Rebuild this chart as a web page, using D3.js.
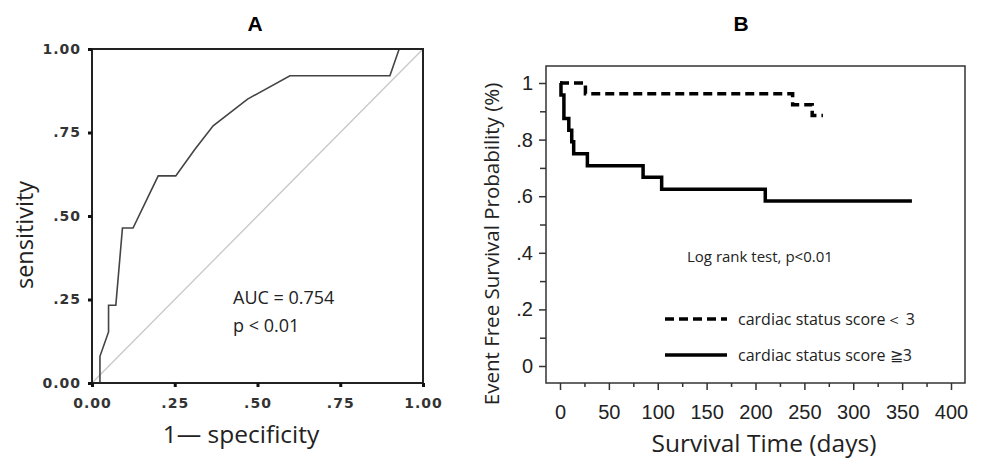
<!DOCTYPE html>
<html>
<head>
<meta charset="utf-8">
<script src="https://cdn.jsdelivr.net/npm/d3@7"></script>
<style>
  body { margin: 0; background: #fff; }
  svg { display: block; }
</style>
</head>
<body>
<div id="container"></div>
<script>
const width = 983, height = 460;

// panel A: ROC curve
const rocFpr = [0.024, 0.024, 0.05, 0.05, 0.072, 0.092, 0.124, 0.2, 0.253, 0.311, 0.366, 0.47, 0.598, 0.90, 0.928, 1.0];
const rocTpr = [0, 0.08, 0.153, 0.233, 0.233, 0.464, 0.464, 0.62, 0.62, 0.70, 0.77, 0.85, 0.92, 0.92, 1.0, 1.0];
const rocTicks = [0, 0.25, 0.5, 0.75, 1];
const rocTickLabels = ["0.00", ".25", ".50", ".75", "1.00"];

// panel B: Kaplan-Meier curves
const lowDays = [0, 26, 238, 258, 269];
const lowSurv = [1, 0.962, 0.923, 0.885, 0.885];
const highDays = [0, 1, 4, 9, 12, 14, 28, 85, 104, 210, 360];
const highSurv = [1, 0.958, 0.875, 0.833, 0.792, 0.75, 0.708, 0.667, 0.625, 0.583, 0.583];
const kmYTicks = [0, 0.2, 0.4, 0.6, 0.8, 1];
const kmYLabels = ["0", ".2", ".4", ".6", ".8", "1"];
const kmXTicks = [0, 50, 100, 150, 200, 250, 300, 350, 400];
const legendLabels = ["cardiac status score\uFF1C 3", "cardiac status score \u22673"];

const textFont = "Open Sans, sans-serif";

const svg = d3.select("#container")
  .append("svg")
  .attr("width", width)
  .attr("height", height)
  .style("background-color", "white");

// ---------- Panel A ----------
const xA = d3.scaleLinear().domain([0, 1]).range([92, 423]);
const yA = d3.scaleLinear().domain([0, 1]).range([383, 49]);

svg.append("text")
  .attr("x", 255).attr("y", 31)
  .attr("text-anchor", "middle")
  .style("font-family", "Liberation Sans, Arial, sans-serif")
  .style("font-weight", "bold")
  .style("font-size", "21px")
  .text("A");

// diagonal reference
svg.append("line")
  .attr("x1", xA(0)).attr("y1", yA(0))
  .attr("x2", xA(1)).attr("y2", yA(1))
  .attr("stroke", "#c8c8c8")
  .attr("stroke-width", 1.3);

const rocLine = d3.line()
  .x(d => xA(d[0]))
  .y(d => yA(d[1]));

svg.append("path")
  .datum(rocFpr.map((f, i) => [f, rocTpr[i]]))
  .attr("d", rocLine)
  .attr("fill", "none")
  .attr("stroke", "#444")
  .attr("stroke-width", 1.6);

svg.append("rect")
  .attr("x", xA(0)).attr("y", yA(1))
  .attr("width", xA(1) - xA(0))
  .attr("height", yA(0) - yA(1))
  .attr("fill", "none")
  .attr("stroke", "#222")
  .attr("stroke-width", 2);

const axA1 = svg.append("g")
  .attr("transform", `translate(${xA(0)},0)`)
  .call(d3.axisLeft(yA).tickValues(rocTicks).tickFormat((d, i) => rocTickLabels[i]).tickSize(4).tickPadding(7));

const axA2 = svg.append("g")
  .attr("transform", `translate(0,${yA(0)})`)
  .call(d3.axisBottom(xA).tickValues(rocTicks).tickFormat((d, i) => rocTickLabels[i]).tickSize(4).tickPadding(11));

[axA1, axA2].forEach(g => {
  g.select(".domain").remove();
  g.selectAll(".tick line").attr("stroke", "#111").attr("stroke-width", 3);
  g.selectAll(".tick text")
    .style("font-family", "DejaVu Sans, sans-serif")
    .style("font-size", "14px")
    .style("font-weight", "bold")
    .style("letter-spacing", "1px")
    .attr("fill", "#333");
});

svg.append("text")
  .attr("transform", "rotate(-90)")
  .attr("x", -235).attr("y", 33)
  .attr("text-anchor", "middle")
  .style("font-family", textFont)
  .style("font-size", "23.5px")
  .attr("fill", "#222")
  .text("sensitivity");

svg.append("text")
  .attr("x", 241).attr("y", 443)
  .attr("text-anchor", "middle")
  .style("font-family", textFont)
  .style("font-size", "24.5px")
  .attr("fill", "#222")
  .text("1\u2014 specificity");

svg.append("text")
  .attr("x", 233).attr("y", 304)
  .style("font-family", textFont)
  .style("font-size", "18px")
  .attr("fill", "#222")
  .text("AUC = 0.754");

svg.append("text")
  .attr("x", 233).attr("y", 332)
  .style("font-family", textFont)
  .style("font-size", "18px")
  .attr("fill", "#222")
  .text("p < 0.01");

// ---------- Panel B ----------
const xB = d3.scaleLinear().domain([0, 400]).range([560, 951]);
const yB = d3.scaleLinear().domain([0, 1]).range([366, 83]);

svg.append("text")
  .attr("x", 741).attr("y", 31)
  .attr("text-anchor", "middle")
  .style("font-family", "Liberation Sans, Arial, sans-serif")
  .style("font-weight", "bold")
  .style("font-size", "21px")
  .text("B");

svg.append("rect")
  .attr("x", 546).attr("y", 66)
  .attr("width", 965 - 546)
  .attr("height", 383 - 66)
  .attr("fill", "none")
  .attr("stroke", "#333")
  .attr("stroke-width", 1.5);

const kmLine = d3.line()
  .curve(d3.curveStepAfter)
  .x(d => xB(d[0]))
  .y(d => yB(d[1]));

svg.append("path")
  .datum(lowDays.map((t, i) => [t, lowSurv[i]]))
  .attr("d", kmLine)
  .attr("fill", "none")
  .attr("stroke", "#000")
  .attr("stroke-width", 3.5)
  .attr("stroke-dasharray", "9,5");

svg.append("path")
  .datum(highDays.map((t, i) => [t, highSurv[i]]))
  .attr("d", kmLine)
  .attr("fill", "none")
  .attr("stroke", "#000")
  .attr("stroke-width", 3.5);

// y axis (major + minor ticks)
const axB1 = svg.append("g")
  .attr("transform", "translate(546,0)")
  .call(d3.axisLeft(yB).tickValues(kmYTicks).tickFormat((d, i) => kmYLabels[i]).tickSize(7).tickPadding(6));
svg.append("g")
  .attr("transform", "translate(546,0)")
  .call(d3.axisLeft(yB).tickValues([0.1, 0.3, 0.5, 0.7, 0.9]).tickFormat("").tickSize(6))
  .call(g => g.select(".domain").remove())
  .selectAll(".tick line").attr("stroke", "#333").attr("stroke-width", 1.5);

const axB2 = svg.append("g")
  .attr("transform", "translate(0,383)")
  .call(d3.axisBottom(xB).tickValues(kmXTicks).tickSize(7).tickPadding(15));
svg.append("g")
  .attr("transform", "translate(0,383)")
  .call(d3.axisBottom(xB).tickValues([25, 75, 125, 175, 225, 275, 325, 375]).tickFormat("").tickSize(4))
  .call(g => g.select(".domain").remove())
  .selectAll(".tick line").attr("stroke", "#333").attr("stroke-width", 1.5);

[axB1, axB2].forEach(g => {
  g.select(".domain").remove();
  g.selectAll(".tick line").attr("stroke", "#333").attr("stroke-width", 1.5);
  g.selectAll(".tick text")
    .style("font-family", "Liberation Sans, Arial, sans-serif")
    .style("font-size", "20px")
    .attr("fill", "#222");
});

svg.append("text")
  .attr("transform", "rotate(-90)")
  .attr("x", -244).attr("y", 499)
  .attr("text-anchor", "middle")
  .style("font-family", textFont)
  .style("font-size", "20.5px")
  .attr("fill", "#222")
  .text("Event Free Survival Probability (%)");

svg.append("text")
  .attr("x", 764).attr("y", 452)
  .attr("text-anchor", "middle")
  .style("font-family", textFont)
  .style("font-size", "24.5px")
  .attr("fill", "#222")
  .text("Survival Time (days)");

svg.append("text")
  .attr("x", 687).attr("y", 262)
  .style("font-family", textFont)
  .style("font-size", "15px")
  .attr("fill", "#222")
  .text("Log rank test, p<0.01");

// legend
const legendY = [319, 355];
legendY.forEach((y, i) => {
  svg.append("line")
    .attr("x1", 665).attr("x2", 727)
    .attr("y1", y).attr("y2", y)
    .attr("stroke", "#000")
    .attr("stroke-width", 3.5)
    .attr("stroke-dasharray", i === 0 ? "9,5" : null);
  svg.append("text")
    .attr("x", 738).attr("y", y + 6)
    .style("font-family", textFont)
    .style("font-size", "16px")
    .attr("fill", "#222")
    .text(legendLabels[i]);
});
</script>
</body>
</html>
